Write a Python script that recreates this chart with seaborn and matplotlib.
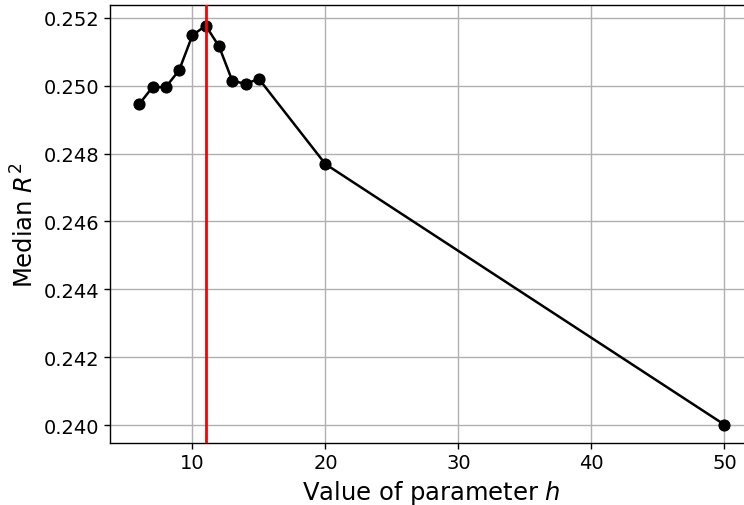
import matplotlib
matplotlib.use("Agg")
import matplotlib.pyplot as plt
import seaborn as sns
import numpy as np
import pandas as pd

h_values = [6, 7, 8, 9, 10, 11, 12, 13, 14, 15, 20, 50]
median_r2 = [0.24946, 0.24996, 0.24996, 0.25046, 0.25149, 0.25177,
             0.25116, 0.25014, 0.25006, 0.25020, 0.24769, 0.24001]
best_h = 11
y_ticks = [0.240, 0.242, 0.244, 0.246, 0.248, 0.250, 0.252]
x_ticks = [10, 20, 30, 40, 50]

df = pd.DataFrame({"h": h_values, "r2": median_r2})

plt.rcParams['font.family'] = ['DejaVu Sans']
fig = plt.figure(figsize=(7.44, 5.06), dpi=100)
ax = fig.add_axes([110/744, 62/506, 643.7/744, 438/506])

sns.lineplot(data=df, x="h", y="r2", ax=ax, color="black", marker="o",
             markersize=8, linewidth=1.8, markeredgecolor="black", zorder=3)
ax.axvline(best_h, color="red", linewidth=2, zorder=4)

ax.grid(True, color="#b0b0b0", linewidth=1)
ax.set_axisbelow(True)
ax.set_yticks(y_ticks)
ax.set_yticklabels([f"{v:.3f}" for v in y_ticks])
ax.set_xticks(x_ticks)
ax.set_xlim(3.8, 52.2)
ax.set_ylim(0.23947, 0.25238)
ax.tick_params(labelsize=14, length=4, width=1, colors="black")
ax.set_xlabel("Value of parameter $h$", fontsize=17.5)
ax.set_ylabel("Median $R^2$", fontsize=17.5)
for s in ax.spines.values():
    s.set_color("black")
    s.set_linewidth(1)

fig.savefig("out.png", dpi=100)
